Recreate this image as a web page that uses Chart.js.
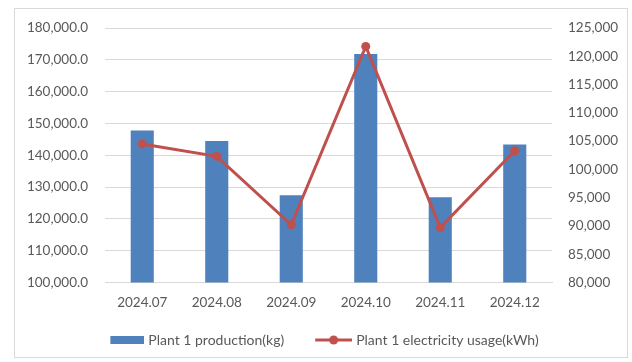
<!DOCTYPE html>
<html>
<head>
<meta charset="utf-8">
<script src="https://cdn.jsdelivr.net/npm/chart.js@4.4.1/dist/chart.umd.min.js"></script>
<style>
  html, body { margin: 0; padding: 0; background: #ffffff; }
  #wrap { position: relative; width: 632px; height: 362px; }
  #frame { position: absolute; left: 14px; top: 8px; width: 612px; height: 348px; border: 1px solid #d9d9d9; pointer-events: none; }
  canvas { position: absolute; left: 0; top: 0; }
</style>
</head>
<body>
<div id="wrap">
  <canvas id="c" width="632" height="362"></canvas>
  <div id="frame"></div>
</div>
<script>
const categories = ['2024.07', '2024.08', '2024.09', '2024.10', '2024.11', '2024.12'];
const production = [147800, 144500, 127400, 171800, 126800, 143400];
const electricity = [104500, 102300, 90200, 121750, 89700, 103300];
const seriesNames = ['Plant 1 production(kg)', 'Plant 1 electricity usage(kWh)'];
const leftTicks = { min: 100000, max: 180000, step: 10000 };
const rightTicks = { min: 80000, max: 125000, step: 5000 };

const BLUE = '#4F81BD';
const RED = '#C0504D';
const TEXT = '#595959';
const GRID = '#d9d9d9';
const FONT = 'Lato';

// legend icons (canvas images, transparent on the left so they sit next to their text)
function makeBarIcon() {
  const cv = document.createElement('canvas');
  cv.width = 49; cv.height = 8;
  const g = cv.getContext('2d');
  g.fillStyle = BLUE;
  g.fillRect(15, 0, 34, 8);
  return cv;
}
function makeLineIcon() {
  const cv = document.createElement('canvas');
  cv.width = 49; cv.height = 10;
  const g = cv.getContext('2d');
  g.strokeStyle = RED;
  g.lineWidth = 3;
  g.beginPath(); g.moveTo(12, 5); g.lineTo(49, 5); g.stroke();
  g.fillStyle = RED;
  g.beginPath(); g.arc(30.5, 5, 4.5, 0, Math.PI * 2); g.fill();
  return cv;
}
const icons = [makeBarIcon(), makeLineIcon()];

const fmtLeft = v => v.toLocaleString('en-US', { minimumFractionDigits: 1, maximumFractionDigits: 1 });
const fmtRight = v => v.toLocaleString('en-US', { maximumFractionDigits: 0 });

new Chart(document.getElementById('c'), {
  data: {
    labels: categories,
    datasets: [
      {
        type: 'bar',
        label: seriesNames[0],
        data: production,
        backgroundColor: BLUE,
        yAxisID: 'yL',
        barPercentage: 0.31,
        categoryPercentage: 1.0,
        order: 2
      },
      {
        type: 'line',
        label: seriesNames[1],
        data: electricity,
        borderColor: RED,
        backgroundColor: RED,
        borderWidth: 3,
        pointRadius: 4.5,
        pointBackgroundColor: RED,
        pointBorderColor: RED,
        pointBorderWidth: 0,
        yAxisID: 'yR',
        tension: 0,
        order: 1
      }
    ]
  },
  options: {
    responsive: false,
    animation: false,
    layout: { padding: { left: 5, right: 0, top: 28, bottom: 5 } },
    plugins: {
      tooltip: { enabled: false },
      legend: {
        position: 'bottom',
        labels: {
          usePointStyle: true,
          pointStyleWidth: 43,
          padding: 22,
          color: TEXT,
          font: { family: FONT, size: 14 },
          generateLabels: (chart) => chart.data.datasets.map((ds, i) => ({
            text: ds.label,
            pointStyle: icons[i],
            fillStyle: i === 0 ? BLUE : RED,
            strokeStyle: i === 0 ? BLUE : RED,
            lineWidth: 0,
            fontColor: TEXT,
            hidden: false,
            datasetIndex: i
          }))
        }
      }
    },
    scales: {
      x: {
        grid: { display: false, drawTicks: false },
        border: { display: true, color: GRID, width: 1 },
        ticks: { color: TEXT, font: { family: FONT, size: 13.5 }, padding: 12, maxRotation: 0 },
        afterFit: s => { s.height = 28.5; }
      },
      yL: {
        type: 'linear',
        position: 'left',
        min: leftTicks.min,
        max: leftTicks.max,
        grid: { color: GRID, lineWidth: 1, drawTicks: false },
        border: { display: false },
        ticks: { stepSize: leftTicks.step, color: TEXT, font: { family: FONT, size: 13.5 }, padding: 17, callback: v => fmtLeft(v) },
        afterFit: s => { s.width = 100; }
      },
      yR: {
        type: 'linear',
        position: 'right',
        min: rightTicks.min,
        max: rightTicks.max,
        grid: { display: false, drawTicks: false },
        border: { display: false },
        ticks: { stepSize: rightTicks.step, color: TEXT, font: { family: FONT, size: 13.5 }, padding: 16, callback: v => fmtRight(v) },
        afterFit: s => { s.width = 80; }
      }
    }
  }
});
</script>
</body>
</html>
